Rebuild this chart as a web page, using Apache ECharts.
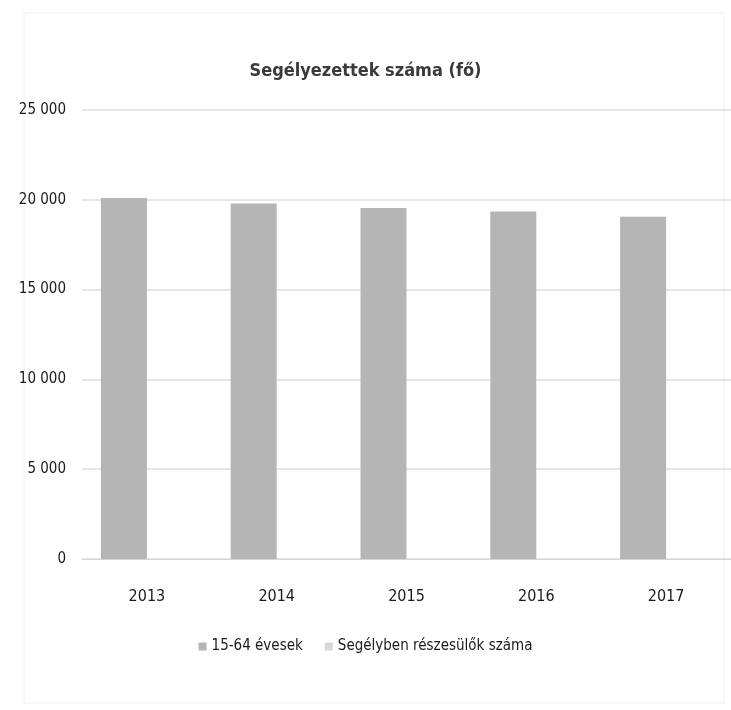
<!DOCTYPE html>
<html>
<head>
<meta charset="utf-8">
<script src="https://cdn.jsdelivr.net/npm/echarts@6/dist/echarts.min.js"></script>
<style>
html,body{margin:0;padding:0;background:#fff;}
#chart{width:731px;height:710px;}
</style>
</head>
<body>
<div id="chart"></div>
<script>
var titleText = 'Segélyezettek száma (fő)';
var categories = ['2013', '2014', '2015', '2016', '2017'];
var seriesNames = ['15-64 évesek', 'Segélyben részesülők száma'];
var ages15to64 = [20100, 19800, 19550, 19350, 19050];
var recipients = [0, 0, 0, 0, 0];
var yTicks = [0, 5000, 10000, 15000, 20000, 25000];

var fontFam = '"Liberation Sans Narrow", "DejaVu Sans Condensed", "Roboto", sans-serif';

function fmt(v) {
  var s = String(v);
  if (s.length > 3) s = s.slice(0, s.length - 3) + ' ' + s.slice(s.length - 3);
  return s;
}

var chart = echarts.init(document.getElementById('chart'), null, {renderer: 'canvas'});
chart.setOption({
  backgroundColor: '#ffffff',
  animation: false,
  title: {
    text: titleText,
    left: 'center',
    top: 57,
    textStyle: {fontFamily: fontFam, fontSize: 18, fontWeight: 'bold', color: '#3a3a3a'}
  },
  graphic: [{
    type: 'rect',
    shape: {x: 24, y: 13, width: 700, height: 690},
    style: {fill: 'none', stroke: '#f0f0f0', lineWidth: 1},
    silent: true
  }],
  legend: {
    data: seriesNames,
    top: 634,
    left: 'center',
    itemWidth: 8,
    itemHeight: 8,
    itemGap: 22,
    icon: 'rect',
    textStyle: {fontFamily: fontFam, fontSize: 15, color: '#1a1a1a'}
  },
  grid: {left: 82, right: -3, top: 110, bottom: 151, containLabel: false},
  xAxis: {
    type: 'category',
    data: categories,
    axisTick: {show: false},
    axisLine: {show: true, lineStyle: {color: '#d6d6d6', width: 1}},
    axisLabel: {fontFamily: fontFam, fontSize: 16, color: '#1a1a1a', margin: 30}
  },
  yAxis: {
    type: 'value',
    min: yTicks[0],
    max: yTicks[yTicks.length - 1],
    interval: yTicks[1] - yTicks[0],
    axisLine: {show: false},
    axisTick: {show: false},
    splitLine: {lineStyle: {color: '#dedede', width: 1.5}},
    axisLabel: {fontFamily: fontFam, fontSize: 15, color: '#1a1a1a', margin: 16, formatter: fmt}
  },
  series: [
    {
      name: seriesNames[0], type: 'bar', data: ages15to64,
      barWidth: 46, barGap: '0%',
      itemStyle: {color: '#b5b5b5'}
    },
    {
      name: seriesNames[1], type: 'bar', data: recipients,
      barWidth: 46,
      itemStyle: {color: '#d6d6d6'}
    }
  ]
});
</script>
</body>
</html>
